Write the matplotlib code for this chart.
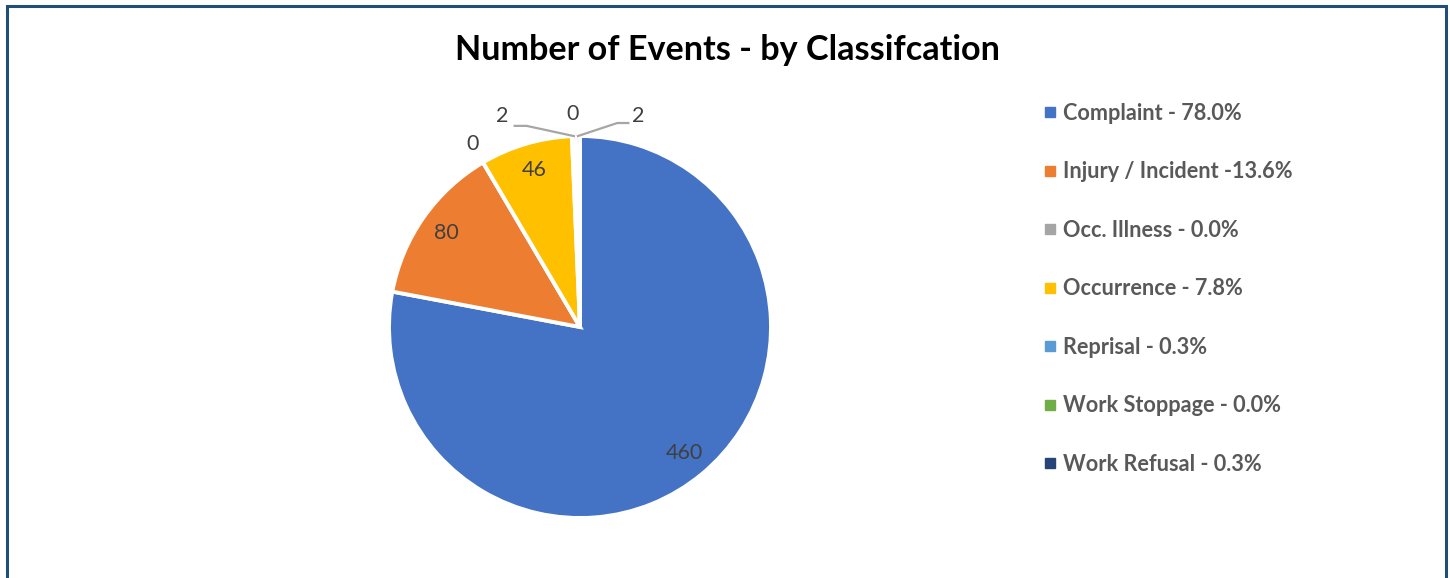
import matplotlib
matplotlib.use('Agg')
import matplotlib.pyplot as plt
from matplotlib.lines import Line2D
from matplotlib.patches import Rectangle
import numpy as np

categories = ['Complaint', 'Injury / Incident', 'Occ. Illness', 'Occurrence',
              'Reprisal', 'Work Stoppage', 'Work Refusal']
counts = [460, 80, 0, 46, 2, 0, 2]
legend_labels = ['Complaint - 78.0%', 'Injury / Incident -13.6%', 'Occ. Illness - 0.0%',
                 'Occurrence - 7.8%', 'Reprisal - 0.3%', 'Work Stoppage - 0.0%',
                 'Work Refusal - 0.3%']
title = 'Number of Events - by Classifcation'
colors = ['#4472C4', '#ED7D31', '#A5A5A5', '#FFC000', '#5B9BD5', '#70AD47', '#264478']

plt.rcParams['font.family'] = ['Lato', 'DejaVu Sans']

W, H = 1450, 578
fig = plt.figure(figsize=(W / 100, H / 100), dpi=100)
fig.patch.set_facecolor('white')

# border
fig.add_artist(Rectangle((7 / W, -0.05), (1446 - 7) / W, (H - 6) / H + 0.05,
                         transform=fig.transFigure, fill=False,
                         edgecolor='#1F4E79', linewidth=2.2))

cx, cy, R = 580, 327, 191
half = 200
ax = fig.add_axes([(cx - half) / W, (H - cy - half) / H, 2 * half / W, 2 * half / H])
wedges, _ = ax.pie(counts, colors=colors, startangle=90, counterclock=False, radius=1,
                   wedgeprops=dict(edgecolor='white', linewidth=2.8))
ax.set_xlim(-half / R, half / R)
ax.set_ylim(-half / R, half / R)
ax.set_aspect('equal')
ax.axis('off')

lab_color = '#404040'
fs_lab = 15.5
for w, v in zip(wedges, counts):
    if v > 10:
        a = np.deg2rad((w.theta1 + w.theta2) / 2)
        ax.text(0.855 * np.cos(a), 0.855 * np.sin(a), str(v), ha='center', va='center',
                fontsize=fs_lab, color=lab_color)


def edge(w, frac=0.5):
    a = np.deg2rad(w.theta1 + (w.theta2 - w.theta1) * frac)
    return np.cos(a), np.sin(a)


lead = '#A6A6A6'
# Occ. Illness
wo = wedges[2]
a = np.deg2rad(wo.theta1)
ax.text(1.11 * np.cos(a), 1.11 * np.sin(a), str(counts[2]), ha='center', va='center',
        fontsize=fs_lab, color=lab_color)
# Reprisal
wr = wedges[4]
ex, ey = edge(wr)
lx, ly = -0.405, 1.105
ax.text(lx, ly, str(counts[4]), ha='center', va='center', fontsize=fs_lab, color=lab_color)
ax.plot([lx + 0.063, lx + 0.126, ex], [ly - 0.052, ly - 0.052, ey], color=lead, lw=1.6,
        clip_on=False)
# Work stoppage
ws = wedges[5]
ex, ey = edge(ws)
ax.text(ex - 0.02, 1.116, str(counts[5]), ha='center', va='center', fontsize=fs_lab,
        color=lab_color)
# Work refusal
wf = wedges[6]
ex, ey = edge(wf)
lx, ly = 0.305, 1.105
ax.text(lx, ly, str(counts[6]), ha='center', va='center', fontsize=fs_lab, color=lab_color)
ax.plot([ex, lx - 0.110, lx - 0.052], [ey, ly - 0.037, ly - 0.037], color=lead, lw=1.6,
        clip_on=False)

fig.text(727 / W, 1 - 50 / H, title, ha='center', va='center', fontsize=24.6,
         fontweight='bold', color='black')

handles = [Line2D([], [], marker='s', linestyle='none', markersize=6.5, color=c)
           for c in colors]
leg = fig.legend(handles, legend_labels, loc='upper left',
                 bbox_to_anchor=(1034 / W, 1 - 94 / H), frameon=False,
                 prop=dict(family=['Lato', 'DejaVu Sans'], weight='bold', size=15.6),
                 labelcolor='#595959', handlelength=0.7, handletextpad=0.25,
                 labelspacing=1.73, borderaxespad=0)

fig.savefig('out.png', dpi=100, facecolor='white')
